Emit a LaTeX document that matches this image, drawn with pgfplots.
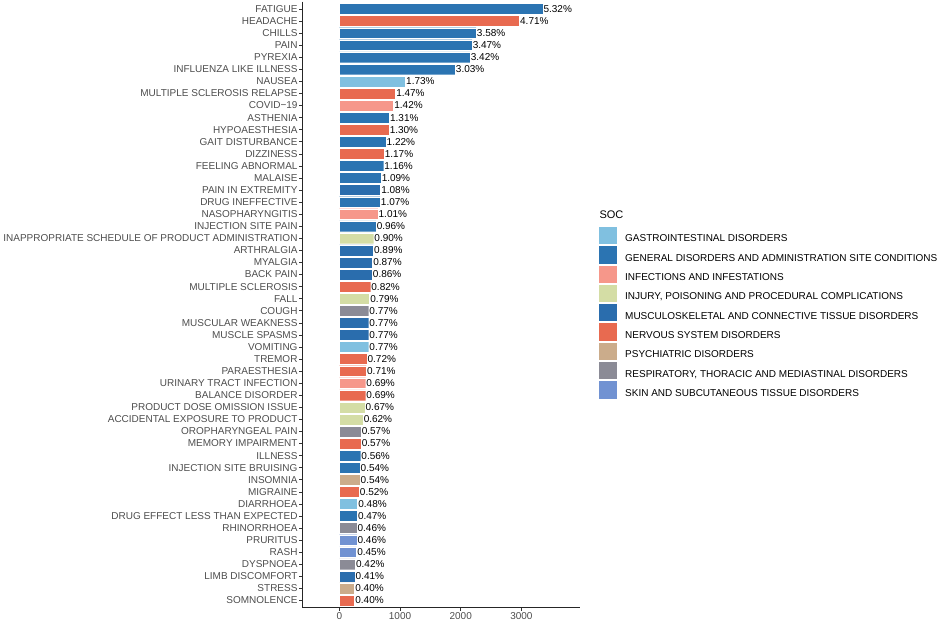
\documentclass[border=0pt]{standalone}
\usepackage{pgfplots}
\pgfplotsset{compat=1.18}
\usepackage{fontspec}
\setmainfont{Liberation Sans}
\definecolor{cgas}{HTML}{80C0E0}
\definecolor{cgen}{HTML}{2B74B2}
\definecolor{cinf}{HTML}{F6978A}
\definecolor{cinj}{HTML}{D4DDA5}
\definecolor{cmus}{HTML}{2A6DAD}
\definecolor{cner}{HTML}{E86A50}
\definecolor{cpsy}{HTML}{CBAC8B}
\definecolor{cres}{HTML}{8B8B96}
\definecolor{cski}{HTML}{7192D2}
\definecolor{txtgray}{HTML}{4D4D4D}
\begin{document}
\begin{tikzpicture}
\useasboundingbox (-302.7pt,-14.3pt) rectangle (638.3pt,607.7pt);
\begin{axis}[
  at={(0pt,0pt)}, anchor=south west,
  scale only axis, width=277.3pt, height=606pt,
  xbar, bar shift=0pt, bar width=0.9,
  xmin=-603, xmax=3965, ymin=-0.6, ymax=49.6, y dir=reverse,
  axis lines=left, axis line style={-, line width=0.9pt, color=black!85},
  xtick={0,1000,2000,3000}, ytick={0,...,49},
  yticklabels={FATIGUE,HEADACHE,CHILLS,PAIN,PYREXIA,INFLUENZA LIKE ILLNESS,NAUSEA,MULTIPLE SCLEROSIS RELAPSE,COVID−19,ASTHENIA,HYPOAESTHESIA,GAIT DISTURBANCE,DIZZINESS,FEELING ABNORMAL,MALAISE,PAIN IN EXTREMITY,DRUG INEFFECTIVE,NASOPHARYNGITIS,INJECTION SITE PAIN,INAPPROPRIATE SCHEDULE OF PRODUCT ADMINISTRATION,ARTHRALGIA,MYALGIA,BACK PAIN,MULTIPLE SCLEROSIS,FALL,COUGH,MUSCULAR WEAKNESS,MUSCLE SPASMS,VOMITING,TREMOR,PARAESTHESIA,URINARY TRACT INFECTION,BALANCE DISORDER,PRODUCT DOSE OMISSION ISSUE,ACCIDENTAL EXPOSURE TO PRODUCT,OROPHARYNGEAL PAIN,MEMORY IMPAIRMENT,ILLNESS,INJECTION SITE BRUISING,INSOMNIA,MIGRAINE,DIARRHOEA,DRUG EFFECT LESS THAN EXPECTED,RHINORRHOEA,PRURITUS,RASH,DYSPNOEA,LIMB DISCOMFORT,STRESS,SOMNOLENCE},
  tick align=outside, major tick length=3.5pt,
  tick style={color=black!80, line width=0.6pt},
  ticklabel style={font=\fontsize{10}{12}\selectfont, text=txtgray, inner sep=1.5pt},
  /pgf/number format/assume math mode=true,
  /pgf/number format/set thousands separator={},
  point meta=explicit,
  nodes near coords={\pgfmathprintnumber[fixed,fixed zerofill,precision=2]{\pgfplotspointmeta}\%},
  every node near coord/.append style={anchor=west, font=\fontsize{10}{12}\selectfont, text=black, inner xsep=0.6pt},
  legend style={at={(1.0685,0.6287)}, anchor=north west, draw=none, fill=none,
    font=\fontsize{10}{12}\selectfont, row sep=2pt, inner sep=0pt,
    nodes={inner sep=0pt},
    /tikz/every odd column/.append style={column sep=8pt}},
  legend cell align=left,
  legend image code/.code={\fill[#1,draw=none] (0pt,-5pt) rectangle (18pt,12.3pt);},
  clip=false,
  every axis plot/.append style={draw=white, line width=0.3pt},
]
\addplot[fill=cgas] table[x=v,y=i,meta=p] {
i v p
6 1090 1.73
28 485 0.77
41 302 0.48
};
\addlegendentry{GASTROINTESTINAL DISORDERS}
\addplot[fill=cgen] table[x=v,y=i,meta=p] {
i v p
0 3352 5.32
2 2255 3.58
3 2186 3.47
4 2155 3.42
5 1909 3.03
9 825 1.31
11 769 1.22
13 731 1.16
14 687 1.09
16 674 1.07
18 605 0.96
37 353 0.56
38 340 0.54
42 296 0.47
};
\addlegendentry{GENERAL DISORDERS AND ADMINISTRATION SITE CONDITIONS}
\addplot[fill=cinf] table[x=v,y=i,meta=p] {
i v p
8 895 1.42
17 636 1.01
31 435 0.69
};
\addlegendentry{INFECTIONS AND INFESTATIONS}
\addplot[fill=cinj] table[x=v,y=i,meta=p] {
i v p
19 567 0.90
24 498 0.79
33 422 0.67
34 391 0.62
};
\addlegendentry{INJURY, POISONING AND PROCEDURAL COMPLICATIONS}
\addplot[fill=cmus] table[x=v,y=i,meta=p] {
i v p
15 680 1.08
20 561 0.89
21 548 0.87
22 542 0.86
26 485 0.77
27 485 0.77
47 258 0.41
};
\addlegendentry{MUSCULOSKELETAL AND CONNECTIVE TISSUE DISORDERS}
\addplot[fill=cner] table[x=v,y=i,meta=p] {
i v p
1 2967 4.71
7 926 1.47
10 819 1.30
12 737 1.17
23 517 0.82
29 454 0.72
30 447 0.71
32 435 0.69
36 359 0.57
40 328 0.52
49 252 0.40
};
\addlegendentry{NERVOUS SYSTEM DISORDERS}
\addplot[fill=cpsy] table[x=v,y=i,meta=p] {
i v p
39 340 0.54
48 252 0.40
};
\addlegendentry{PSYCHIATRIC DISORDERS}
\addplot[fill=cres] table[x=v,y=i,meta=p] {
i v p
25 485 0.77
35 359 0.57
43 290 0.46
46 265 0.42
};
\addlegendentry{RESPIRATORY, THORACIC AND MEDIASTINAL DISORDERS}
\addplot[fill=cski] table[x=v,y=i,meta=p] {
i v p
44 290 0.46
45 284 0.45
};
\addlegendentry{SKIN AND SUBCUTANEOUS TISSUE DISORDERS}
\node[anchor=west, inner sep=0pt, font=\fontsize{11}{13}\selectfont] at (axis description cs:1.0696,0.6485) {SOC};
\end{axis}
\end{tikzpicture}
\end{document}
